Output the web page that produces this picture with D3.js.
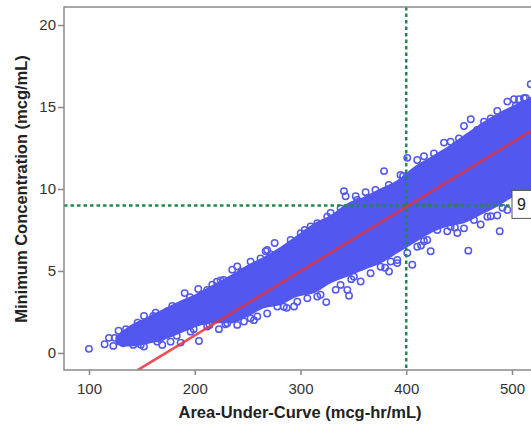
<!DOCTYPE html>
<html>
<head>
<meta charset="utf-8">
<script src="https://cdn.jsdelivr.net/npm/d3@7"></script>
<style>
  body { margin: 0; background: #fff; }
  svg { display: block; font-family: "Liberation Sans", Arial, sans-serif; }
</style>
</head>
<body>
<script>
// dense core of the cloud (upper / lower edge)
var coreAUC   = [125, 139.4, 155.2, 170.9, 186.7, 202.4, 218.2, 234, 249.7, 265.5, 281.2, 297, 312.8,
                 328.5, 344.3, 360, 375.8, 391.6, 407.3, 423.1, 438.8, 454.6, 470.4, 486.1, 501.9, 517.7, 523];
var coreUpper = [1.0, 1.7, 2.2, 2.7, 3.2, 3.64, 4.2, 4.76, 5.37, 5.87, 6.48, 7.2, 7.91,
                 8.41, 9.13, 9.53, 10.04, 10.55, 11.36, 11.97, 12.58, 13.29, 14.0, 14.61, 15.12, 15.63, 15.9];
var coreLower = [0.5, 0.39, 0.55, 0.79, 1.2, 1.61, 1.81, 1.81, 2.21, 2.72, 2.93, 3.43, 3.64,
                 4.25, 4.65, 5.06, 5.47, 6.08, 6.69, 7.3, 7.7, 7.91, 8.41, 8.92, 9.53, 9.9, 10.1];

// single circles on the rim and outside it
var pointAUC = [100, 114.8, 118.9, 123, 124.3, 132.4, 137.8, 141.9, 144.1, 152, 160.8, 158.9, 169.3, 178.8,
  186.7, 190.5, 195.5, 203.4, 204, 216.6, 224.5, 222.9, 235.5, 240.2, 246.6, 259.2, 267.1, 275.6, 278.1,
  293.9, 309.6, 315.9, 324.4, 328.5, 333.3, 341.1, 342.7, 344.3, 345.9, 352.2, 356.9, 361.6, 379, 383.7,
  385.3, 391.5, 401, 405.7, 401, 416.8, 423.1, 416.8, 435.7, 438.8, 448.3, 454.6, 458.7, 461, 470.4,
  479.9, 486.1, 488.4, 486.1, 501.9, 506.6, 503.5, 517.7,
  170.9, 211.8, 227.5, 252.8, 262.2, 268.5, 290.7, 300.2, 315.9, 325.3, 337.9, 353.6, 370.9, 383.5,
  394.6, 410.4, 426.2, 442, 449.8, 473.5, 479.9, 495.6, 511.3,
  152, 164.6, 177.2, 196.1, 211.8, 230.8, 240.2, 252.8, 268.5, 284.3, 297, 306.5, 337.9, 350.5,
  366.3, 375.8, 391.6, 410.4, 419.9, 429.4, 442, 454.6, 464.1, 476.7, 495.6, 508.2,
  128, 131, 135, 146, 149, 163, 167, 174, 183, 193, 199, 207, 214, 221, 229, 244, 256, 272,
  287, 304, 319, 333, 348, 364, 380, 397, 414, 431, 446, 467, 491, 513];
var pointConc = [0.25, 0.53, 0.92, 0.43, 0.92, 0.59, 1.22, 0.49, 0.9, 2.26, 2.26, 1.67, 0.49, 2.87,
  0.63, 3.65, 3.4, 3.9, 0.73, 4.16, 4.42, 1.45, 5.08, 5.28, 1.92, 2.22, 6.2, 6.71, 2.83,
  2.83, 7.72, 3.44, 3.1, 8.54, 3.85, 9.87, 9.56, 3.85, 3.49, 9.56, 4.36, 9.8, 11.09, 4.97,
  5.58, 5.48, 11.9, 5.38, 6.1, 6.81, 6.2, 12.0, 12.83, 7.42, 7.32, 13.84, 6.24, 14.25, 7.83,
  8.34, 8.38, 7.42, 14.76, 15.47, 15.47, 15.06, 16.39,
  2.41, 3.85, 4.45, 5.57, 5.77, 6.28, 6.89, 7.3, 7.91, 8.31, 8.82, 9.33, 9.94, 10.25,
  10.86, 11.77, 12.17, 12.88, 13.09, 14.1, 14.3, 15.33, 15.53,
  0.39, 0.69, 0.69, 1.3, 1.61, 1.81, 1.71, 2.11, 2.41, 2.82, 3.13, 3.33, 4.15, 4.65,
  4.86, 5.26, 5.67, 6.48, 6.89, 7.5, 7.7, 7.6, 8.11, 8.31, 8.72, 9.33,
  1.35, 0.7, 1.45, 1.85, 0.5, 2.45, 0.85, 2.55, 1.05, 3.1, 1.45, 3.55, 1.7, 4.35, 1.75, 4.95, 2.0, 6.0,
  2.75, 7.5, 3.55, 8.1, 4.5, 9.45, 5.2, 10.8, 6.55, 11.95, 7.65, 13.6, 8.85, 15.55];

var fitAUC = [146, 522];
var fitConc = [-1.05, 13.69];

var refAUC = 400;
var refConc = 9;

var xTicks = [100, 200, 300, 400, 500];
var yTicks = [0, 5, 10, 15, 20];

var width = 531;
var height = 425;
var plot = { left: 64, top: 7, right: 536, bottom: 370 };
var blue = '#5157ef';

var svg = d3.select('body').append('svg')
  .attr('width', width)
  .attr('height', height);

var x = d3.scaleLinear().domain([76.4, 522.7]).range([plot.left, plot.right]);
var y = d3.scaleLinear().domain([-1.04, 21.1]).range([plot.bottom, plot.top]);

svg.append('clipPath').attr('id', 'clip')
  .append('rect')
  .attr('x', plot.left).attr('y', plot.top)
  .attr('width', plot.right - plot.left).attr('height', plot.bottom - plot.top);

var g = svg.append('g').attr('clip-path', 'url(#clip)');

// core band
var core = coreAUC.map(function(a, i) {
  return { a: a, hi: coreUpper[i], lo: coreLower[i] };
});
g.append('path')
  .datum(core)
  .attr('fill', blue)
  .attr('d', d3.area()
    .curve(d3.curveMonotoneX)
    .x(function(d) { return x(d.a); })
    .y0(function(d) { return y(d.lo); })
    .y1(function(d) { return y(d.hi); }));

var points = pointAUC.map(function(a, i) { return { a: a, c: pointConc[i] }; });
g.selectAll('circle.pt')
  .data(points)
  .enter().append('circle')
  .attr('class', 'pt')
  .attr('cx', function(d) { return x(d.a); })
  .attr('cy', function(d) { return y(d.c); })
  .attr('r', 3.2)
  .attr('fill', 'none')
  .attr('stroke', blue)
  .attr('stroke-width', 1.5);

// reference lines
g.append('line')
  .attr('x1', x(refAUC)).attr('x2', x(refAUC))
  .attr('y1', plot.top).attr('y2', plot.bottom)
  .attr('stroke', '#23884e').attr('stroke-width', 2.5)
  .attr('stroke-dasharray', '3.5,3');
g.append('line')
  .attr('x1', plot.left).attr('x2', plot.right)
  .attr('y1', y(refConc)).attr('y2', y(refConc))
  .attr('stroke', '#23884e').attr('stroke-width', 2.5)
  .attr('stroke-dasharray', '3.5,3');

// fit line
g.append('path')
  .datum(fitAUC.map(function(a, i) { return { a: a, c: fitConc[i] }; }))
  .attr('fill', 'none')
  .attr('stroke', '#e4333a')
  .attr('stroke-opacity', 0.85)
  .attr('stroke-width', 2.6)
  .attr('d', d3.line()
    .x(function(d) { return x(d.a); })
    .y(function(d) { return y(d.c); }));

// label on the horizontal reference line
var lab = svg.append('g');
lab.append('rect')
  .attr('x', 512).attr('y', y(refConc) - 15)
  .attr('width', 30).attr('height', 28)
  .attr('fill', '#fff').attr('stroke', '#555').attr('stroke-width', 1);
lab.append('text')
  .attr('x', 517).attr('y', y(refConc) + 5)
  .attr('font-size', 16).attr('fill', '#222')
  .text(refConc);

// frame
svg.append('rect')
  .attr('x', plot.left).attr('y', plot.top)
  .attr('width', plot.right - plot.left).attr('height', plot.bottom - plot.top)
  .attr('fill', 'none').attr('stroke', '#8a8a8a').attr('stroke-width', 1.5);

var xAxis = svg.append('g')
  .attr('transform', 'translate(0,' + plot.bottom + ')')
  .call(d3.axisBottom(x).tickValues(xTicks).tickSize(5).tickPadding(8));
var yAxis = svg.append('g')
  .attr('transform', 'translate(' + plot.left + ',0)')
  .call(d3.axisLeft(y).tickValues(yTicks).tickSize(6).tickPadding(2));

[xAxis, yAxis].forEach(function(ax) {
  ax.select('.domain').remove();
  ax.selectAll('line').attr('stroke', '#8a8a8a').attr('stroke-width', 1.5);
  ax.selectAll('text')
    .attr('font-size', 15)
    .attr('font-family', '"Liberation Sans", Arial, sans-serif')
    .attr('fill', '#333');
});

svg.append('text')
  .attr('x', 300).attr('y', 418)
  .attr('text-anchor', 'middle')
  .attr('font-size', 16.5).attr('font-weight', 'bold').attr('fill', '#222')
  .text('Area-Under-Curve (mcg-hr/mL)');

svg.append('text')
  .attr('transform', 'translate(27,189) rotate(-90)')
  .attr('text-anchor', 'middle')
  .attr('font-size', 16.5).attr('font-weight', 'bold').attr('fill', '#222')
  .text('Minimum Concentration (mcg/mL)');
</script>
</body>
</html>
